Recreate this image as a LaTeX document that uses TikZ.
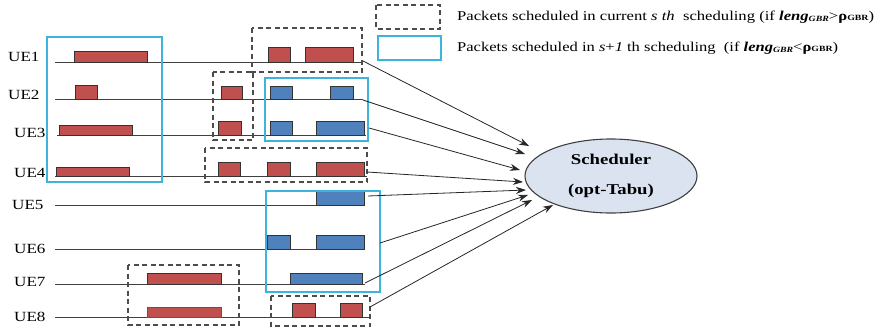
\documentclass[tikz,border=0pt]{standalone}
\usepackage{fontspec}
\setmainfont{Liberation Serif}
\usetikzlibrary{arrows.meta,shapes.geometric}
\definecolor{pktred}{HTML}{C0504D}
\definecolor{pktblue}{HTML}{4F81BD}
\definecolor{cyanbox}{HTML}{3CB4DC}
\definecolor{ellfill}{HTML}{DCE3F0}
\definecolor{linegray}{HTML}{404040}
\definecolor{pktpurple}{HTML}{6A3FA0}
\newcommand{\widetext}[1]{\scalebox{1.22}[1]{#1}}
\tikzset{
  redpkt/.style={draw=black!80, fill=pktred, line width=0.8pt},
  bluepkt/.style={draw=black!80, fill=pktblue, line width=0.8pt},
  cbox/.style={draw=cyanbox, line width=2pt},
  dbox/.style={draw=black!70, dash pattern=on 5pt off 3.5pt, line width=1.3pt},
  tline/.style={draw=linegray, line width=1pt},
  arr/.style={draw=black!85, line width=0.8pt, -{Stealth[length=10pt,width=7pt]}},
  uelab/.style={anchor=west, inner sep=0pt, font=\fontsize{14}{16}\selectfont},
  legtext/.style={anchor=base west, inner sep=0pt, font=\fontsize{13.5}{15}\selectfont},
}
\begin{document}
\begin{tikzpicture}[x=1pt,y=-1pt]
\useasboundingbox (0,0) rectangle (881,327);
% labels
\node[uelab] (ue1) at (8,57) {\widetext{UE1}};
\node[uelab] (ue2) at (8,95) {\widetext{UE2}};
\node[uelab] (ue3) at (14,133) {\widetext{UE3}};
\node[uelab] (ue4) at (14,173) {\widetext{UE4}};
\node[uelab] (ue5) at (12,205) {\widetext{UE5}};
\node[uelab] (ue6) at (14,249) {\widetext{UE6}};
\node[uelab] (ue7) at (14,282) {\widetext{UE7}};
\node[uelab] (ue8) at (14,317) {\widetext{UE8}};
% timelines
\coordinate (l1a) at (55,62);  \coordinate (l1b) at (363,62);
\coordinate (l2a) at (55,99);  \coordinate (l2b) at (363,99);
\coordinate (l3a) at (57,135); \coordinate (l3b) at (366,135);
\coordinate (l4a) at (55,176); \coordinate (l4b) at (367,176);
\coordinate (l5a) at (55,205); \coordinate (l5b) at (365,205);
\coordinate (l6a) at (55,249); \coordinate (l6b) at (365,249);
\coordinate (l7a) at (55,284); \coordinate (l7b) at (365,284);
\coordinate (l8a) at (55,317); \coordinate (l8b) at (370,317);
\foreach \i in {1,...,8} {\draw[tline] (l\i a) -- (l\i b);}
% packets
\draw[redpkt] (74,51) rectangle (147,62);
\draw[redpkt] (268,47) rectangle (290,62);
\draw[redpkt] (305,47) rectangle (353,62);
\draw[redpkt] (75,85) rectangle (97,99);
\draw[redpkt] (221,86) rectangle (242,99);
\draw[bluepkt] (270,86) rectangle (292,99);
\draw[bluepkt] (330,86) rectangle (353,99);
\draw[redpkt] (59,125) rectangle (132,135);
\draw[redpkt] (218,121) rectangle (241,135);
\draw[bluepkt] (270,121) rectangle (292,135);
\draw[bluepkt] (316,121) rectangle (364,135);
\draw[redpkt] (56,167) rectangle (129,176);
\draw[redpkt] (218,162) rectangle (240,176);
\draw[redpkt] (267,162) rectangle (290,176);
\draw[redpkt] (316,162) rectangle (364,176);
\draw[bluepkt] (316,191) rectangle (364,205);
\draw[bluepkt] (267,235) rectangle (290,249);
\draw[bluepkt] (316,235) rectangle (364,249);
\draw[redpkt] (147,273) rectangle (221,284);
\draw[bluepkt] (290,273) rectangle (362,284);
\draw[redpkt, draw=pktpurple] (147,307) rectangle (221,317);
\draw[redpkt] (292,303) rectangle (315,317);
\draw[redpkt] (340,303) rectangle (362,317);
% group boxes
\draw[cbox] (47,37) rectangle (162,182);
\draw[dbox] (252,28) rectangle (362,72);
\draw[dbox] (213,72) rectangle (253,140);
\draw[cbox] (265,78) rectangle (368,141);
\draw[dbox] (205,148) rectangle (367,182);
\draw[cbox] (266,191) rectangle (380,292);
\draw[dbox] (128,265) rectangle (239,325);
\draw[dbox] (271,296) rectangle (370,326);
% legend
\draw[dbox] (376,5) rectangle (440,29);
\draw[cbox] (378,36) rectangle (441,60);
\node[legtext] (leg1) at (457,20) {\resizebox{417pt}{\height}{Packets scheduled in current \textit{s th}\ \ scheduling (if \textbf{\textit{leng}}\raisebox{-1pt}{\footnotesize\textit{\textbf{GBR}}}>\textbf{ρ}\raisebox{-0.5pt}{\footnotesize\textbf{GBR}})}};
\node[legtext] (leg2) at (457,51) {\resizebox{381pt}{\height}{Packets scheduled in \textit{s}+\textit{1} th scheduling\ \ (if \textbf{\textit{leng}}\raisebox{-1pt}{\footnotesize\textit{\textbf{GBR}}}<\textbf{ρ}\raisebox{-0.5pt}{\footnotesize\textbf{GBR}})}};
% scheduler
\node[ellipse, draw=black!75, fill=ellfill, line width=1.1pt, minimum width=172pt, minimum height=74pt, inner sep=0pt, align=center, font=\fontsize{15}{30}\selectfont\bfseries] (sched) at (611,176) {\scalebox{1.25}[1]{Scheduler}\\\scalebox{1.25}[1]{(opt-Tabu)}};
% arrows
\coordinate (s1) at (363,61);  \coordinate (e1) at (529,146);
\coordinate (s2) at (363,100); \coordinate (e2) at (525,154);
\coordinate (s3) at (369,128); \coordinate (e3) at (520,170);
\coordinate (s4) at (367,172); \coordinate (e4) at (523,182);
\coordinate (s5) at (368,196); \coordinate (e5) at (526,190);
\coordinate (s6) at (380,243); \coordinate (e6) at (528,195);
\coordinate (s7) at (365,283); \coordinate (e7) at (532,200);
\coordinate (s8) at (370,307); \coordinate (e8) at (553,205);
\foreach \i in {1,...,8} {\draw[arr] (s\i) -- (e\i);}
\end{tikzpicture}
\end{document}
